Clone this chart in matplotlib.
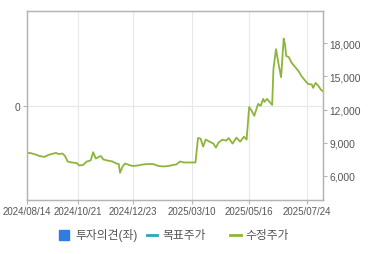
"""Stock chart: 투자의견 / 목표주가 / 수정주가."""

import matplotlib
matplotlib.use("Agg")
import matplotlib.pyplot as plt
from matplotlib.lines import Line2D

plt.rcParams["font.family"] = ["Liberation Sans", "Noto Sans CJK KR", "DejaVu Sans"]

# trading-session index of each read point and adjusted close (수정주가)
SESSION_IDX = [
    0, 3, 7, 10, 14, 16, 18, 21, 23, 25, 28, 30, 32, 35, 39, 41, 44, 47, 50, 52,
    54, 57, 58, 60, 63, 67, 70, 72, 73, 75, 77, 80, 83, 87, 91, 95, 99, 103, 107, 111,
    114, 117, 120, 123, 129, 132, 134, 136, 138, 140, 143, 146, 148, 150, 153, 156, 158, 161, 164, 167,
    170, 172, 174, 176, 178, 181, 183, 185, 186, 188, 190, 192, 193, 195, 197, 199, 201, 202, 203, 205,
    207, 210, 213, 215, 218, 220, 223, 224, 226, 228, 230, 232,
]
PRICE = [
    8070, 8050, 7920, 7780, 7710, 7830, 7920, 8010, 8070, 7960, 8010, 7780, 7290, 7200, 7150, 6930, 6970, 7290, 7380, 8130,
    7560, 7740, 7780, 7470, 7380, 7290, 7110, 7060, 6270, 6840, 7110, 6970, 6880, 6930, 7020, 7060, 7060, 6880, 6840, 6880,
    6970, 7020, 7290, 7200, 7200, 7200, 9420, 9360, 8640, 9270, 9090, 8910, 8550, 9000, 9270, 9180, 9410, 8910, 9450, 9090,
    9540, 9270, 12220, 11880, 11430, 12510, 12330, 12960, 12690, 12960, 12690, 12420, 15670, 17470, 16120, 14920, 18430, 17920, 16840, 16750,
    16270, 15850, 15420, 15010, 14590, 14320, 14270, 13960, 14410, 14160, 13820, 13620,
]

TICK_IDX = [0, 40, 83, 129, 174, 219]
TICK_LABELS = ["2024/08/14", "2024/10/21", "2024/12/23", "2025/03/10", "2025/05/16", "2025/07/24"]
PRICE_TICKS = [6000, 9000, 12000, 15000, 18000]

LEGEND_LABELS = ["투자의견(좌)", "목표주가", "수정주가"]
LEGEND_COLORS = ["#2f7de1", "#2aa6b8", "#8db53c"]

SPINE = "#b4b4b4"
GRID = "#e8e8e8"
TEXT = "#555555"


def main() -> None:
    fig = plt.figure(figsize=(3.7, 2.55), dpi=100)
    ax = fig.add_axes([0.0722, 0.2118, 0.8016, 0.74])
    ax2 = ax.twinx()

    ax.set_xlim(0, 232)
    ax.set_ylim(-1, 1)
    ax.set_yticks([0])
    ax.set_yticklabels(["0"])
    ax.set_xticks(TICK_IDX)
    ax.set_xticklabels(TICK_LABELS)
    ax.grid(True, color=GRID, linewidth=0.8)
    ax.set_axisbelow(True)

    ax2.plot(SESSION_IDX, PRICE, color=LEGEND_COLORS[2], linewidth=1.3, solid_joinstyle="round")
    ax2.set_ylim(3800, 20900)
    ax2.set_yticks(PRICE_TICKS)
    ax2.set_yticklabels([f"{v:,}" for v in PRICE_TICKS])

    for axis in (ax, ax2):
        for spine in axis.spines.values():
            spine.set_color(SPINE)
            spine.set_linewidth(0.9)
        axis.tick_params(colors=SPINE, labelcolor=TEXT, labelsize=7.4, length=3, width=0.8, pad=1.5)
    ax.tick_params(axis="x", labelsize=7)

    # legend row
    y = 0.075
    fig.add_artist(Line2D([0.173], [y], marker="s", markersize=6.5, color=LEGEND_COLORS[0],
                          linestyle="none", transform=fig.transFigure))
    fig.text(0.205, y, LEGEND_LABELS[0], fontsize=8.5, color=TEXT, va="center")
    fig.add_artist(Line2D([0.397, 0.425], [y, y], color=LEGEND_COLORS[1], linewidth=2,
                          transform=fig.transFigure))
    fig.text(0.438, y, LEGEND_LABELS[1], fontsize=8.5, color=TEXT, va="center")
    fig.add_artist(Line2D([0.622, 0.65], [y, y], color=LEGEND_COLORS[2], linewidth=2,
                          transform=fig.transFigure))
    fig.text(0.662, y, LEGEND_LABELS[2], fontsize=8.5, color=TEXT, va="center")

    fig.savefig("out.png", dpi=100)
    plt.close(fig)


if __name__ == "__main__":
    main()
